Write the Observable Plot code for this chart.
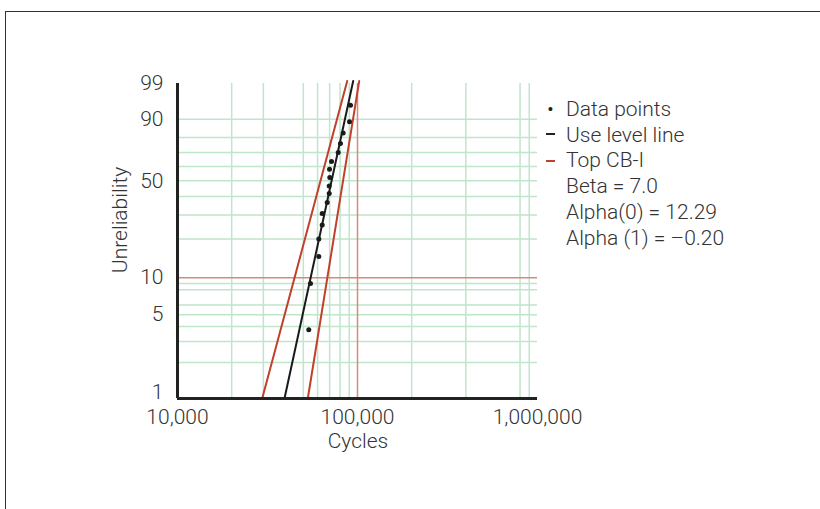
<!DOCTYPE html>
<html>
<head>
<meta charset="utf-8">
<script src="https://cdn.jsdelivr.net/npm/d3@7"></script>
<script src="https://cdn.jsdelivr.net/npm/@observablehq/plot@0.6"></script>
<style>
  html, body { margin: 0; padding: 0; background: #fff; overflow: hidden; }
  body { width: 820px; height: 509px; position: relative; font-family: Roboto, "Liberation Sans", sans-serif; font-weight: 300; color: #333; }
  #frame { position: absolute; left: 5px; top: 11px; width: 900px; height: 600px; border: 1px solid #333; }
  #chart { position: absolute; left: 0; top: 0; }
  .lbl { position: absolute; font-size: 21px; color: #333; white-space: nowrap; }
  #legend { position: absolute; left: 545px; top: 97px; font-size: 21px; line-height: 25.7px; color: #333; }
  #legend .row { position: relative; padding-left: 21px; white-space: nowrap; }
  #legend .sym { position: absolute; left: 0; }
</style>
</head>
<body>
<div id="frame"></div>
<div id="chart"></div>
<div class="lbl" id="xlabel" style="left:358px; top:441px; transform: translate(-50%,-50%);">Cycles</div>
<div class="lbl" id="ylabel" style="left:120px; top:220px; transform: translate(-50%,-50%) rotate(-90deg);">Unreliability</div>
<div id="legend"></div>
<script>
// ---- data ----
const xTicks = [10000, 100000, 1000000];
const xGrid = [20000, 30000, 50000, 60000, 70000, 80000, 90000, 200000, 400000, 800000, 900000];
const yTicks = [1, 5, 10, 50, 90, 99];
const yGrid = [2, 3, 4, 5, 6, 8, 9, 20, 30, 40, 50, 60, 70, 80, 90];
const refX = [100000];
const refY = [10];

const pointCycles = [53620, 54810, 60950, 60950, 63670, 63670, 67880, 69640, 69640, 70170, 69900, 71720, 78120, 80430, 83260, 90280, 91450];
const pointUnrel  = [3.75, 9.0, 14.7, 20.0, 25.5, 30.7, 36.5, 41.8, 46.6, 52.2, 58.1, 63.5, 69.9, 76.1, 82.7, 88.8, 95.1];

const useLevelCycles = [39300, 94640];
const useLevelUnrel  = [1, 99.2];
const cbLowCycles  = [29550, 87680];
const cbLowUnrel   = [1, 99.2];
const cbHighCycles = [52950, 102190];
const cbHighUnrel  = [1, 99.2];

const legendItems = [
  {sym: "•", color: "#222", text: "Data points"},
  {sym: "dash", color: "#222", text: "Use level line"},
  {sym: "dash", color: "#c0402c", text: "Top CB-I"},
  {sym: "", color: "", text: "Beta = 7.0"},
  {sym: "", color: "", text: "Alpha(0) = 12.29"},
  {sym: "", color: "", text: "Alpha (1) = \u20130.20"}
];

// Weibull probability transform
const wb = p => Math.log(-Math.log(1 - p / 100));

const points = pointCycles.map((c, i) => ({c, F: pointUnrel[i]}));
const mkLine = (cs, fs) => cs.map((c, i) => ({c, F: fs[i]}));
const useLevel = mkLine(useLevelCycles, useLevelUnrel);
const cbLow = mkLine(cbLowCycles, cbLowUnrel);
const cbHigh = mkLine(cbHighCycles, cbHighUnrel);

const gridColor = "#bfe5cb";
const textColor = "#333";
const yTicksMain = yTicks.filter(t => t !== 1);
const yTicksLow = yTicks.filter(t => t === 1);

const chart = Plot.plot({
  width: 820,
  height: 509,
  marginLeft: 177,
  marginRight: 283,
  marginTop: 83,
  marginBottom: 111,
  style: {fontFamily: "Roboto, 'Liberation Sans', sans-serif", fontWeight: 300, fontSize: "21px", color: textColor, background: "transparent", overflow: "visible"},
  x: {type: "log", domain: [10000, 1000000]},
  y: {type: "linear", domain: [wb(1), wb(99)]},
  marks: [
    Plot.ruleX(xGrid, {x: d => d, stroke: gridColor, strokeWidth: 1.5}),
    Plot.ruleY(yGrid, {y: d => wb(d), stroke: gridColor, strokeWidth: 1.5}),
    Plot.ruleY(refY, {y: d => wb(d), stroke: "#d58a80", strokeWidth: 1.5}),
    Plot.ruleX(refX, {x: d => d, stroke: "#d58a80", strokeWidth: 1.5}),
    Plot.line(cbLow, {x: "c", y: d => wb(d.F), stroke: "#c0402c", strokeWidth: 2}),
    Plot.line(cbHigh, {x: "c", y: d => wb(d.F), stroke: "#c0402c", strokeWidth: 2}),
    Plot.line(useLevel, {x: "c", y: d => wb(d.F), stroke: "#1a1a1a", strokeWidth: 2}),
    Plot.dot(points, {x: "c", y: d => wb(d.F), r: 2.5, fill: "#1a1a1a", stroke: "none"}),
    Plot.ruleX([10000], {x: d => d, stroke: "#222", strokeWidth: 3}),
    Plot.ruleY([1], {y: d => wb(d), x1: 10000, x2: 1000000, stroke: "#222", strokeWidth: 3}),
    Plot.axisX({ticks: xTicks, tickSize: 0, tickPadding: 11, label: null, tickFormat: d => d3.format(",")(d), fontSize: 21}),
    Plot.axisY({ticks: yTicksMain.map(wb), tickSize: 0, tickPadding: 14, label: null, tickFormat: d => String(Math.round(100 * (1 - Math.exp(-Math.exp(d))))), fontSize: 21}),
    Plot.axisY({ticks: yTicksLow.map(wb), tickSize: 0, tickPadding: 14, label: null, dy: -6, tickFormat: d => String(Math.round(100 * (1 - Math.exp(-Math.exp(d))))), fontSize: 21})
  ]
});
document.getElementById("chart").appendChild(chart);

const leg = document.getElementById("legend");
for (const it of legendItems) {
  const row = document.createElement("div");
  row.className = "row";
  if (it.sym === "•") {
    const s = document.createElement("span");
    s.className = "sym";
    s.style.cssText = "left:2px; top:0; color:" + it.color + ";";
    s.textContent = "•";
    row.appendChild(s);
  } else if (it.sym === "dash") {
    const s = document.createElement("span");
    s.className = "sym";
    s.style.cssText = "left:1px; width:9px; height:2px; top:" + (it.color === "#222" ? 10 : 12) + "px; background:" + it.color + ";";
    row.appendChild(s);
  }
  const t = document.createElement("span");
  t.textContent = it.text;
  row.appendChild(t);
  leg.appendChild(row);
}
</script>
</body>
</html>
